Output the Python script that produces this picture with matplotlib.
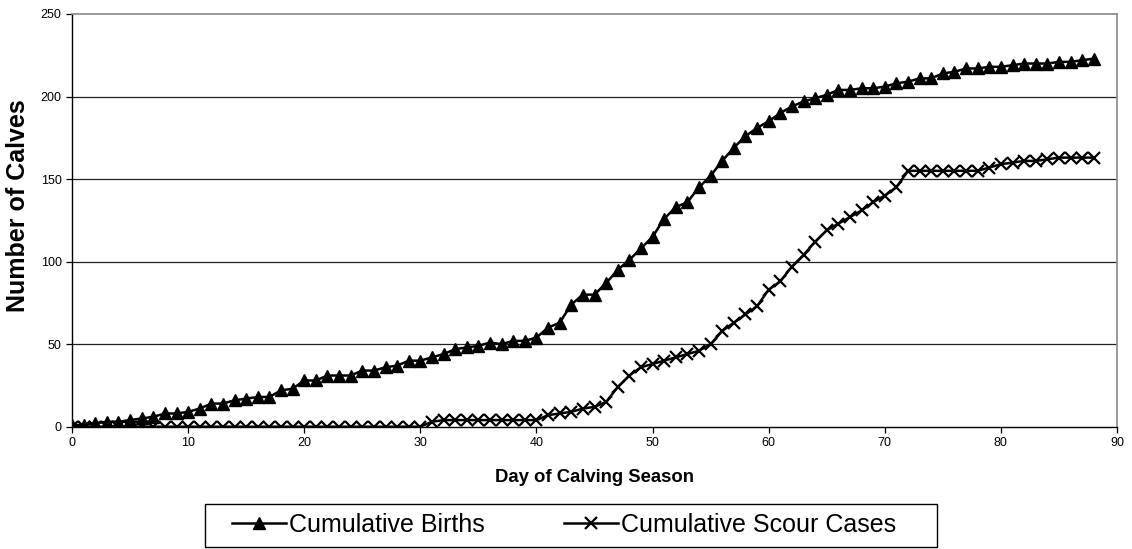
import matplotlib
matplotlib.use("Agg")
import matplotlib.pyplot as plt
from matplotlib.patches import Rectangle

plt.rcParams['font.family'] = ['Liberation Sans', 'DejaVu Sans']

days = list(range(0, 89))

births = [1, 1, 2, 3, 3, 4, 5, 6, 8, 8,
          9, 11, 14, 14, 16, 17, 18, 18, 22, 23,
          28, 28, 31, 31, 31, 34, 34, 36, 37, 40,
          40, 42, 44, 47, 48, 49, 51, 50, 52, 52,
          54, 60, 63, 74, 80, 80, 87, 95, 101, 108,
          115, 126, 133, 136, 145, 152, 161, 169, 176, 181,
          185, 190, 194, 197, 199, 201, 204, 204, 205, 205,
          206, 208, 209, 211, 211, 214, 215, 217, 217, 218,
          218, 219, 220, 220, 220, 221, 221, 222, 223]

scours = [0, 0, 0, 0, 0, 0, 0, 0, 0, 0,
          0, 0, 0, 0, 0, 0, 0, 0, 0, 0,
          0, 0, 0, 0, 0, 0, 0, 0, 0, 0,
          0, 3, 4, 4, 4, 4, 4, 4, 4, 4,
          4, 7, 8, 9, 11, 12, 15, 24, 31, 36,
          38, 40, 42, 44, 46, 50, 58, 63, 68, 73,
          83, 88, 97, 104, 112, 119, 123, 127, 131, 136,
          140, 145, 155, 155, 155, 155, 155, 155, 155, 157,
          159, 160, 161, 161, 162, 163, 163, 163, 163]

x_ticks = [0, 10, 20, 30, 40, 50, 60, 70, 80, 90]
y_ticks = [0, 50, 100, 150, 200, 250]

W, H = 1132, 549
fig = plt.figure(figsize=(W / 100, H / 100), dpi=100)
ax = fig.add_axes([72 / W, (H - 426.7) / H, (1117 - 72) / W, (426.7 - 14) / H])

for y in y_ticks[1:-1]:
    ax.axhline(y, color='#222222', lw=0.9, zorder=1)

ax.plot(days, births, color='black', lw=1.8, marker='^', markersize=8,
        markerfacecolor='black', markeredgecolor='black', label='Cumulative Births', zorder=3)
ax.plot(days, scours, color='black', lw=1.8, marker='x', markersize=8,
        markeredgewidth=1.6, label='Cumulative Scour Cases', zorder=3)

ax.set_xlim(0, 90)
ax.set_ylim(0, 250)
ax.set_xticks(x_ticks)
ax.set_yticks(y_ticks)
ax.tick_params(axis='both', labelsize=9, direction='out', length=4, width=0.9)

for side in ['top', 'right']:
    ax.spines[side].set_color('#888888')
    ax.spines[side].set_linewidth(1.2)
for side in ['left', 'bottom']:
    ax.spines[side].set_color('black')
    ax.spines[side].set_linewidth(1.0)

ax.set_xlabel('Day of Calving Season', fontsize=13.3, fontweight='bold', labelpad=14)
fig.text(18 / W, 1 - 206 / H, 'Number of Calves', rotation=90, fontsize=18,
         fontweight='bold', ha='center', va='center')

# legend box
fig.patches.append(Rectangle((205 / W, 2 / H), (937 - 205) / W, (547 - 504) / H,
                             transform=fig.transFigure, fill=False,
                             edgecolor='black', lw=1.0))
leg = fig.legend(loc='center', bbox_to_anchor=(564 / W, (H - 525) / H), ncol=2,
                 fontsize=18, frameon=False,
                 handlelength=2.15, handletextpad=0.12, columnspacing=3.2,
                 borderpad=0.0)

fig.savefig('out.png', dpi=100)
